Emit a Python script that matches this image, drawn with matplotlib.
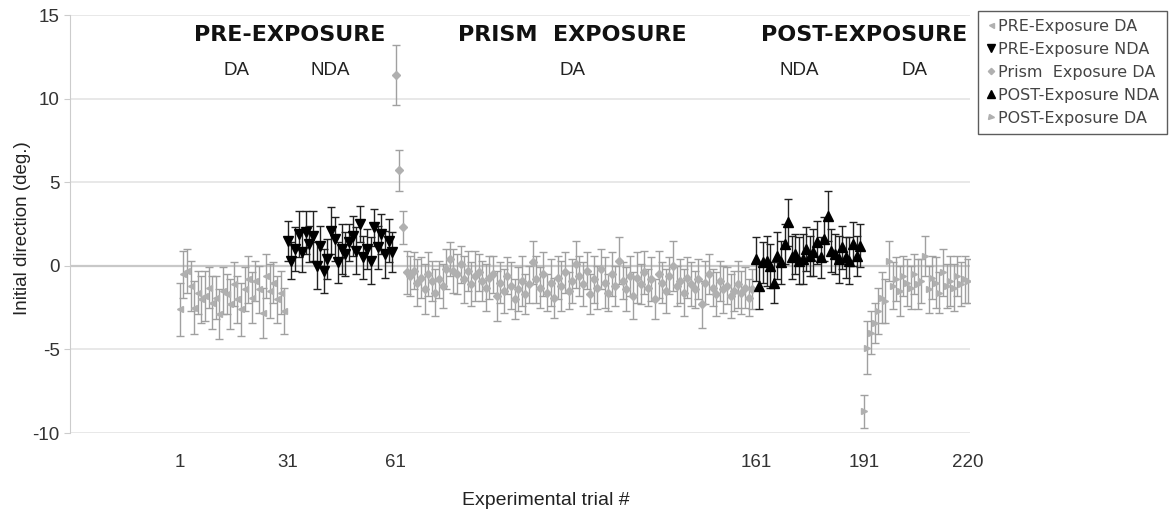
import matplotlib.pyplot as plt
from matplotlib.lines import Line2D

plt.rcParams['font.family'] = ['Liberation Sans', 'DejaVu Sans']
plt.rcParams['axes.unicode_minus'] = False

# ------------------------------
# Data
# ------------------------------
pre_da_trials = list(range(1, 31))
pre_da = [-2.6, -0.5, -0.3, -1.2, -2.5, -1.6, -2.0, -1.8, -1.3, -2.2,
          -1.9, -2.9, -1.5, -1.7, -2.3, -1.1, -2.0, -2.6, -1.4, -0.8,
          -1.9, -0.9, -1.4, -2.8, -0.6, -1.5, -1.0, -2.0, -1.6, -2.7]
pre_da_err = [1.6, 1.4, 1.3, 1.5, 1.6, 1.3, 1.4, 1.5, 1.2, 1.6,
              1.3, 1.5, 1.4, 1.2, 1.5, 1.3, 1.4, 1.6, 1.3, 1.4,
              1.5, 1.2, 1.4, 1.5, 1.3, 1.6, 1.2, 1.4, 1.3, 1.4]

pre_nda_trials = list(range(31, 61))
pre_nda = [1.5, 0.3, 1.0, 1.9, 0.8, 2.0, 1.3, 1.8, 0.0, 1.2,
           -0.3, 0.4, 2.1, 1.6, 0.2, 1.0, 0.7, 1.4, 1.8, 0.9,
           2.5, 0.5, 1.0, 0.3, 2.3, 1.1, 1.9, 0.7, 1.5, 0.8]
pre_nda_err = [1.2, 1.1, 1.3, 1.4, 1.2, 1.3, 1.1, 1.5, 1.4, 1.2,
               1.3, 1.2, 1.4, 1.3, 1.2, 1.5, 1.3, 1.1, 1.2, 1.4,
               1.1, 1.3, 1.2, 1.4, 1.1, 1.3, 1.2, 1.4, 1.3, 1.2]

prism_trials = list(range(61, 161))
prism_da = [11.4, 5.7, 2.3, -0.4, -0.6, -0.3, -1.0, -0.7, -1.4, -0.5,
            -0.9, -1.6, -0.8, -1.2, -0.2, 0.4, -0.3, -0.5, 0.1, -0.8,
            -0.3, -1.1, -0.6, -0.4, -0.9, -1.3, -0.7, -0.5, -1.8, -1.0,
            -1.5, -0.6, -1.2, -2.0, -1.4, -0.9, -1.7, -1.1, 0.2, -0.8,
            -1.3, -0.5, -1.6, -1.0, -1.9, -0.7, -1.2, -0.4, -1.5, -0.9,
            0.1, -0.6, -1.1, -0.3, -1.7, -0.8, -1.3, -0.2, -1.0, -1.6,
            -0.5, -1.2, 0.3, -0.9, -1.4, -0.6, -1.8, -0.7, -1.1, -0.4,
            -1.3, -0.8, -2.0, -0.5, -1.0, -1.5, -0.6, 0.0, -1.2, -0.9,
            -1.6, -0.7, -1.1, -1.4, -0.8, -2.3, -1.0, -0.5, -1.3, -1.7,
            -0.9, -1.4, -1.2, -1.8, -1.5, -1.1, -1.6, -1.3, -1.9, -1.4]
prism_err = [1.8, 1.2, 1.0, 1.3, 1.2, 1.1, 1.4, 1.2, 1.5, 1.3,
             1.2, 1.4, 1.1, 1.3, 1.2, 1.0, 1.3, 1.2, 1.1, 1.4,
             1.2, 1.3, 1.5, 1.1, 1.2, 1.4, 1.3, 1.1, 1.5, 1.2,
             1.3, 1.1, 1.4, 1.2, 1.3, 1.5, 1.2, 1.1, 1.3, 1.4,
             1.2, 1.3, 1.1, 1.4, 1.2, 1.3, 1.5, 1.2, 1.1, 1.3,
             1.4, 1.2, 1.3, 1.1, 1.2, 1.4, 1.3, 1.2, 1.5, 1.1,
             1.3, 1.2, 1.4, 1.1, 1.3, 1.2, 1.4, 1.5, 1.2, 1.3,
             1.1, 1.3, 1.2, 1.4, 1.2, 1.3, 1.1, 1.5, 1.2, 1.3,
             1.4, 1.2, 1.3, 1.1, 1.2, 1.4, 1.3, 1.2, 1.1, 1.3,
             1.2, 1.4, 1.1, 1.3, 1.2, 1.4, 1.3, 1.2, 1.1, 1.2]

post_nda_trials = list(range(161, 191))
post_nda = [0.4, -1.2, 0.2, 0.3, 0.0, -1.0, 0.6, 0.2, 1.3, 2.6,
            0.5, 0.7, 0.3, 0.4, 1.0, 0.6, 0.8, 1.4, 0.5, 1.6,
            3.0, 0.9, 0.7, 0.4, 1.1, 0.5, 0.3, 1.3, 0.6, 1.2]
post_nda_err = [1.3, 1.4, 1.2, 1.5, 1.3, 1.2, 1.4, 1.3, 1.2, 1.4,
                1.3, 1.2, 1.4, 1.5, 1.3, 1.2, 1.4, 1.3, 1.2, 1.3,
                1.5, 1.3, 1.2, 1.4, 1.3, 1.2, 1.4, 1.3, 1.2, 1.3]

post_da_trials = list(range(191, 221))
post_da = [-8.7, -4.9, -4.0, -3.4, -2.7, -1.9, -2.1, 0.3, -1.2, -0.8,
           -1.5, -0.6, -1.0, -1.3, -0.5, -1.1, -0.9, 0.6, -1.4, -0.7,
           -1.0, -1.6, -0.4, -1.2, -0.9, -1.3, -0.6, -1.1, -0.8, -0.9]
post_da_err = [1.0, 1.6, 1.3, 1.2, 1.4, 1.5, 1.3, 1.2, 1.4, 1.3,
               1.5, 1.2, 1.4, 1.3, 1.2, 1.5, 1.3, 1.2, 1.4, 1.3,
               1.5, 1.2, 1.4, 1.3, 1.5, 1.4, 1.2, 1.3, 1.4, 1.3]

xticks = [1, 31, 61, 161, 191, 220]

# ------------------------------
# Plot
# ------------------------------
gray = '#b0b0b0'
egray = '#a0a0a0'

fig = plt.figure(figsize=(11.73, 5.13), dpi=100)
ax = fig.add_axes([70 / 1173, 80 / 513, 900 / 1173, 418 / 513])

for yv in [-10, -5, 5, 10, 15]:
    ax.axhline(yv, color='#e4e4e4', lw=1.2, zorder=0)
ax.axhline(0, color='#c8c8c8', lw=1.6, zorder=0)

series = [
    (pre_da_trials, pre_da, pre_da_err, '<', gray, egray, 4.5, 'PRE-Exposure DA'),
    (pre_nda_trials, pre_nda, pre_nda_err, 'v', 'black', '#222222', 7.5, 'PRE-Exposure NDA'),
    (prism_trials, prism_da, prism_err, 'D', gray, egray, 4, 'Prism  Exposure DA'),
    (post_nda_trials, post_nda, post_nda_err, '^', 'black', '#222222', 7.5, 'POST-Exposure NDA'),
    (post_da_trials, post_da, post_da_err, '>', gray, egray, 4.5, 'POST-Exposure DA'),
]

handles = []
for i, (x, y, e, m, c, ec, ms, lab) in enumerate(series):
    ax.errorbar(x, y, yerr=e, fmt='none', ecolor=ec, elinewidth=1,
                capsize=3, capthick=1, zorder=2 + i)
    ax.plot(x, y, ls='none', marker=m, color=c, ms=ms, mec=c, zorder=2 + i)
    handles.append(Line2D([], [], ls='none', marker=m, color=c, mec=c,
                          ms=ms * 0.8, label=lab))

ax.set_xlim(-29.5, 220.5)
ax.set_ylim(-10, 15)
ax.set_yticks([-10, -5, 0, 5, 10, 15])
ax.set_xticks(xticks)
ax.tick_params(axis='y', labelsize=13.5, colors='#cccccc', labelcolor='#333333',
               length=4)
ax.tick_params(axis='x', labelsize=13.5, length=0, pad=15, labelcolor='#333333')

for s in ['top', 'right', 'bottom']:
    ax.spines[s].set_visible(False)
ax.spines['left'].set_color('#cccccc')

ax.set_ylabel('Initial direction (deg.)', fontsize=13.5, color='#222222')
ax.yaxis.set_label_coords(-0.043, 0.49)
ax.set_xlabel('Experimental trial #', fontsize=14, color='#222222')
ax.xaxis.set_label_coords(0.529, -0.14)

# phase headers
for xt, txt in [(31.5, 'PRE-EXPOSURE'), (110, 'PRISM  EXPOSURE'), (191, 'POST-EXPOSURE')]:
    ax.text(xt, 13.8, txt, ha='center', va='center', fontsize=16,
            fontweight='bold', color='#111111', family='DejaVu Sans')
for xt, txt in [(16.8, 'DA'), (42.7, 'NDA'), (110, 'DA'), (173, 'NDA'), (205, 'DA')]:
    ax.text(xt, 11.7, txt, ha='center', va='center', fontsize=13.5, color='#222222')

leg = fig.legend(handles=handles, loc='upper left',
                 bbox_to_anchor=(978 / 1173, 1 - 11 / 513),
                 prop={'family': 'DejaVu Sans', 'size': 11.5},
                 frameon=True, fancybox=False, edgecolor='#333333',
                 handlelength=0.6, handletextpad=0.15, labelspacing=0.5,
                 borderpad=0.5, borderaxespad=0)
leg.get_frame().set_linewidth(1)
for t in leg.get_texts():
    t.set_color('#444444')

fig.savefig('out.png', dpi=100)
